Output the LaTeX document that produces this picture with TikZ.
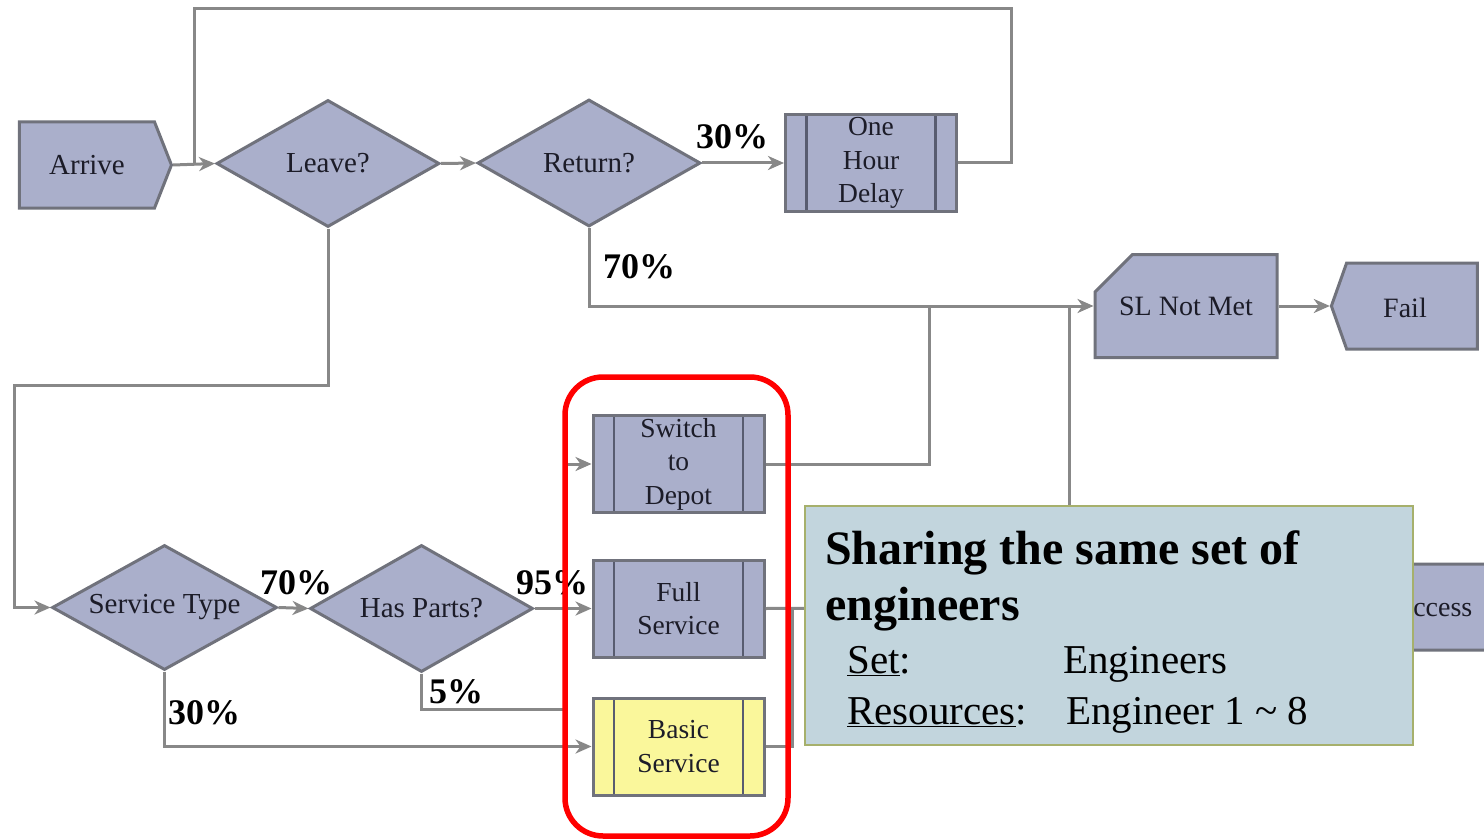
\documentclass[tikz,border=0pt]{standalone}
\usepackage{fontspec}
\setmainfont{Liberation Serif}
\newfontfamily\timesface{Liberation Serif}
\usetikzlibrary{arrows.meta,shapes.geometric,shapes.symbols,shapes.misc}

\definecolor{blockfill}{RGB}{170,175,203}
\definecolor{blockedge}{RGB}{112,114,124}
\definecolor{bandline}{RGB}{88,92,112}
\definecolor{wire}{RGB}{136,136,136}
\definecolor{inkdark}{RGB}{28,28,40}
\definecolor{basicfill}{RGB}{250,247,155}
\definecolor{notefill}{RGB}{194,213,221}
\definecolor{noteedge}{RGB}{166,176,108}
\definecolor{groupred}{RGB}{255,0,0}

\tikzset{
  block/.style={draw=blockedge, line width=3pt, fill=blockfill, text=inkdark,
    inner sep=0pt, font=\timesface\fontsize{29}{33}\selectfont},
  decision/.style={block, diamond, aspect=1.8, minimum width=223pt, minimum height=127pt},
  process/.style={block, rectangle, minimum width=171pt, minimum height=97pt,
    align=center, font=\timesface\fontsize{27.5}{33.5}\selectfont,
    path picture={
      \draw[draw=bandline, line width=2.5pt]
        ([xshift=21pt]path picture bounding box.north west) --
        ([xshift=21pt]path picture bounding box.south west)
        ([xshift=-21pt]path picture bounding box.north east) --
        ([xshift=-21pt]path picture bounding box.south east);
    }},
  arrivebox/.style={block, signal, signal to=east, signal pointer angle=137,
    minimum width=152pt, minimum height=86pt},
  disposebox/.style={block, signal, signal to=west, signal pointer angle=141,
    minimum width=146pt, minimum height=86pt, font=\timesface\fontsize{28}{33}\selectfont},
  recordbox/.style={block, chamfered rectangle, chamfered rectangle corners=north west,
    chamfered rectangle xsep=28pt, chamfered rectangle ysep=28pt,
    minimum width=182pt, minimum height=103pt, font=\timesface\fontsize{28}{33}\selectfont},
  wireline/.style={draw=wire, line width=3pt},
  flow/.style={wireline, -{Stealth[length=16pt, width=14pt, inset=5pt]}},
  pct/.style={font=\timesface\bfseries\fontsize{36}{40}\selectfont, text=black, inner sep=0pt},
  groupbox/.style={draw=groupred, line width=5.5pt, rounded corners=38pt,
    minimum width=223pt, minimum height=459pt},
  notebox/.style={draw=noteedge, line width=2pt, fill=notefill,
    minimum width=608pt, minimum height=239pt, inner sep=0pt},
  notetitle/.style={font=\timesface\bfseries\fontsize{48}{56}\selectfont, text=black, inner sep=0pt},
  notetext/.style={font=\timesface\fontsize{41}{48}\selectfont, text=black, inner sep=0pt},
}

\begin{document}
\begin{tikzpicture}[x=1pt, y=-1pt]
\useasboundingbox (0,0) rectangle (1484,840);
\fill[white] (0,0) rectangle (1484,840);
\clip (0,0) rectangle (1484,840);

% --- blocks ---
\node[arrivebox] (arrive) at (87,165) {Arrive};
\node[decision] (leave) at (328,163.5) {Leave?};
\node[decision] (return) at (589,163) {Return?};
\node[process] (delay) at (871,163) {One\\Hour\\Delay};
\node[recordbox] (slnm) at (1186,306) {SL Not Met};
\node[disposebox, label={[font=\timesface\fontsize{28}{33}\selectfont, text=inkdark,
  xshift=-7pt, yshift=-2pt]center:Fail}] (fail) at (1412,306) {};
\node[disposebox] (success) at (1428,607) {Success};

\node[decision, minimum width=225pt, minimum height=125pt] (stype) at (164.5,607.5) {Service Type};
\node[decision] (parts) at (421.5,608.5) {Has Parts?};

\node[process] (switch) at (678.5,464) {Switch\\to\\Depot};
\node[process] (full) at (678.5,608.5) {Full\\Service};
\node[process, fill=basicfill] (basic) at (678.5,746.5) {Basic\\Service};

% --- routing points ---
\coordinate (loopTR) at (1011,9);
\coordinate (loopJoin) at (194,163.5);
\coordinate (leaveBend) at (14,385);
\coordinate (depotJoin) at (929,306);
\coordinate (metJoin) at (1069,306);
\coordinate (metDown) at (1069,600);
\coordinate (merge) at (792,607);
\coordinate (depotIn) at (566,464);
\coordinate (partsOut) at (563,709);

% --- connectors ---
\draw[flow] (arrive.east) -- (leave.west);
\draw[flow] (leave.east) -- (return.west);
\draw[flow] (return.east) -- (delay.west);
\draw[wireline] (delay.east) -| (loopTR) -| (loopJoin);
\draw[flow] (return.south) |- (slnm.west);
\draw[flow] (slnm.east) -- (fail.west);
\draw[wireline] (switch.east) -| (depotJoin);
\draw[wireline] (metJoin) -- (metDown);
\draw[flow] (leave.south) |- (leaveBend) |- (stype.west);
\draw[flow] (stype.east) -- (parts.west);
\draw[flow] (parts.east) -- (full.west);
\draw[wireline] (parts.south) |- (partsOut);
\draw[flow] (stype.south) |- (basic.west);
\draw[flow] (depotIn) -- (switch.west);
\draw[flow] (full.east) -- (success.west);
\draw[wireline] (basic.east) -| (merge);

% --- branch probabilities ---
\node[pct] (p30a) at (732,137) {30\%};
\node[pct] (p70a) at (639,267) {70\%};
\node[pct] (p70b) at (296,583) {70\%};
\node[pct] (p95) at (552,583) {95\%};
\node[pct] (p5) at (456,692) {5\%};
\node[pct] (p30b) at (204,713) {30\%};

% --- shared engineer group ---
\node[groupbox] (crew) at (676.5,606.5) {};

% --- note ---
\node[notebox, anchor=north west] (note) at (804,505) {};
\node[notetitle, anchor=base west] (n1) at (825,564) {Sharing the same set of};
\node[notetitle, anchor=base west] (n2) at (825,620) {engineers};
\node[notetext, anchor=base west] (n3) at (847,673) {\underline{Set}:};
\node[notetext, anchor=base west] (n4) at (1063,673) {Engineers};
\node[notetext, anchor=base west] (n5) at (847,724) {\underline{Resources}:};
\node[notetext, anchor=base west] (n6) at (1066,724) {Engineer 1 \textasciitilde{} 8};
\end{tikzpicture}
\end{document}
